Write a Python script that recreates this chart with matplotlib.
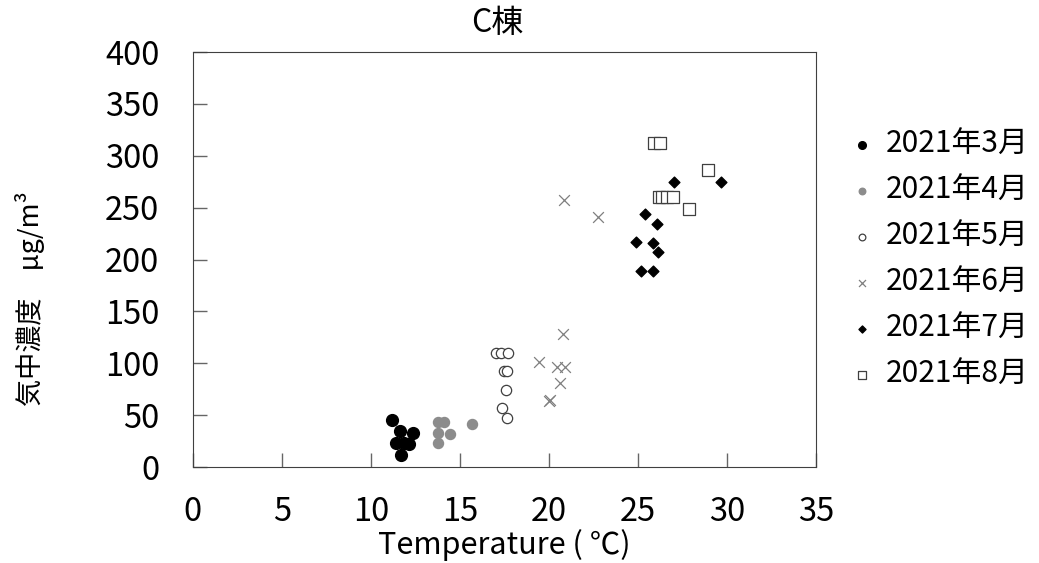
import matplotlib.pyplot as plt

plt.rcParams['font.family'] = ['Noto Sans CJK JP', 'DejaVu Sans']

# Temperature (C) and concentration (ug/m3) per month
mar_x = [11.2, 11.65, 12.34, 11.42, 11.83, 12.15, 11.7]
mar_y = [45, 34.6, 33, 22.8, 22.8, 22, 11.5]

apr_x = [13.76, 14.12, 13.76, 14.45, 13.76, 15.67]
apr_y = [43, 43, 33, 31.7, 22.8, 41]

may_x = [17.0, 17.3, 17.67, 17.49, 17.64, 17.6, 17.36, 17.64]
may_y = [110.3, 110.3, 110.3, 92.3, 92.3, 74, 56.4, 46.8]

jun_x = [20.76, 19.46, 20.45, 20.92, 20.63, 20.03, 20.0, 20.82, 22.73]
jun_y = [128.5, 101.3, 96.5, 96.5, 81, 64.4, 64.0, 257.7, 240.7]

jul_x = [25.41, 26.03, 24.9, 25.82, 26.12, 25.17, 25.82, 27.0, 29.66]
jul_y = [244, 234.3, 216.7, 216, 207.7, 189.4, 189.4, 275, 275]

aug_x = [25.88, 26.2, 26.16, 26.35, 26.63, 26.94, 28.9, 27.84]
aug_y = [312, 312, 260, 260, 260, 260, 286.5, 249]

labels = ['2021年3月', '2021年4月', '2021年5月', '2021年6月', '2021年7月', '2021年8月']

fig = plt.figure(figsize=(10.39, 5.63), dpi=100)
ax = fig.add_axes([0.1855, 0.1705, 0.6002, 0.7371])

ax.scatter(mar_x, mar_y, s=72, marker='o', color='black', label=labels[0])
ax.scatter(apr_x, apr_y, s=52, marker='o', color='#8c8c8c', label=labels[1])
ax.scatter(may_x, may_y, s=55, marker='o', facecolors='white', edgecolors='#404040',
           linewidths=0.9, label=labels[2])
ax.scatter(jun_x, jun_y, s=60, marker='x', color='#7f7f7f', linewidths=0.9, label=labels[3])
ax.scatter(jul_x, jul_y, s=30, marker='D', color='black', label=labels[4])
ax.scatter(aug_x, aug_y, s=80, marker='s', facecolors='white', edgecolors='#404040',
           linewidths=0.9, label=labels[5])

ax.set_xlim(0, 35)
ax.set_ylim(0, 400)
ax.set_xticks(range(0, 36, 5))
ax.set_yticks(range(0, 401, 50))
ax.tick_params(direction='in', length=10, width=1, color='#666666', labelsize=23.5)
ax.tick_params(axis='y', pad=24)
ax.tick_params(axis='x', pad=21)
for sp in ax.spines.values():
    sp.set_color('#404040')

fig.text(497 / 1039, 1 - 23 / 563, 'C棟', fontsize=23, ha='center', va='center')
ax.set_xlabel('Temperature ( ℃)', fontsize=22, va='center')
ax.xaxis.set_label_coords(0.5, -0.188)
ax.set_ylabel('気中濃度　μg/m³', fontsize=19.5, va='center')
ax.yaxis.set_label_coords(-0.261, 0.405)

ax.legend(loc='center left', bbox_to_anchor=(1.054, 0.5), frameon=False, fontsize=21.5,
          markerscale=0.65, handlelength=0.8, handletextpad=0.4, labelspacing=0.5,
          borderaxespad=0, borderpad=0)

fig.savefig('out.png', dpi=100)
